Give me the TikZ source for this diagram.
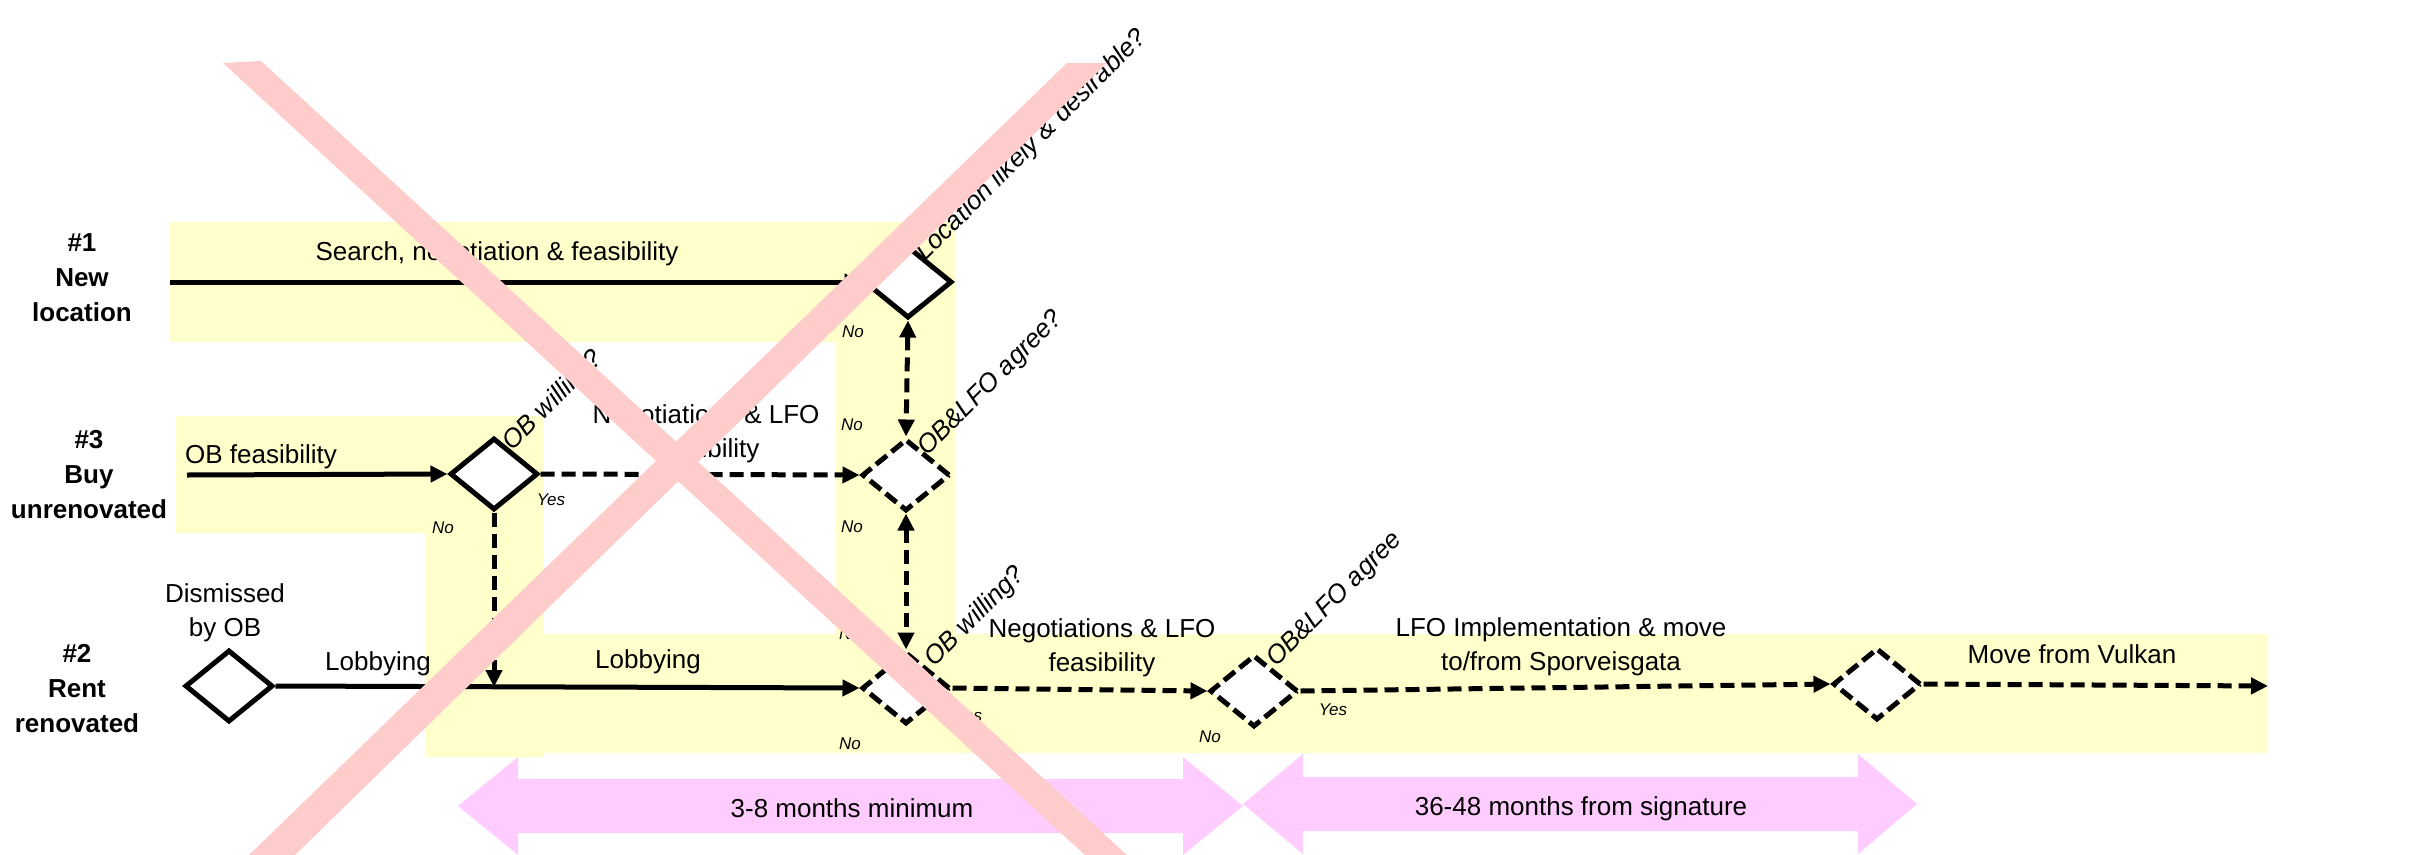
\documentclass[tikz,border=0pt]{standalone}
\usepackage{fontspec}
\setmainfont{Liberation Sans}
\usetikzlibrary{shapes.geometric,arrows.meta}
\definecolor{band}{HTML}{FFFFCC}
\definecolor{parrow}{HTML}{FFCCFF}
\definecolor{xcol}{HTML}{FFCCCC}
\tikzset{
  dia/.style={diamond, draw, fill=white, line width=5pt, minimum width=88pt, minimum height=72pt, inner sep=0pt},
  dashdia/.style={dia, dash pattern=on 14pt off 6pt},
  flow/.style={line width=5pt, -{Triangle[length=17pt,width=16pt]}},
  dflow/.style={flow, dash pattern=on 14pt off 7pt},
  ddflow/.style={dflow, {Triangle[length=17pt,width=16pt]}-{Triangle[length=17pt,width=16pt]}},
  lbl/.style={font=\fontsize{26pt}{34pt}\selectfont, inner sep=0pt, align=center},
  rlbl/.style={font=\fontsize{26pt}{30pt}\selectfont\itshape, inner sep=0pt, rotate=45, anchor=base west},
  small/.style={font=\fontsize{17pt}{20pt}\selectfont\itshape, inner sep=0pt},
  head/.style={font=\fontsize{26pt}{35pt}\selectfont\bfseries, inner sep=0pt, align=center, anchor=base},
}
\begin{document}
\begin{tikzpicture}[x=1pt,y=-1pt]
\useasboundingbox (0,0) rectangle (2422,854);
% yellow bands
\fill[band] (170,222) rectangle (955,342);
\fill[band] (836,222) rectangle (955,634);
\fill[band] (176,416) rectangle (544,533);
\fill[band] (426,416) rectangle (544,757);
\fill[band] (426,634) rectangle (2268,753);
% pink duration arrows
\fill[parrow] (458,806) -- (518,757) -- (518,779) -- (1183,779) -- (1183,757) -- (1243,806)
  -- (1183,855) -- (1183,833) -- (518,833) -- (518,855) -- cycle;
\fill[parrow] (1243,804) -- (1303,754) -- (1303,777) -- (1858,777) -- (1858,754) -- (1917,804)
  -- (1858,854) -- (1858,831) -- (1303,831) -- (1303,854) -- cycle;
\node[lbl, anchor=base] (tm1) at (852,817) {3-8 months minimum};
\node[lbl, anchor=base] (tm2) at (1581,815) {36-48 months from signature};
% row headers (base = last line)
\node[head] (h1) at (82,321) {\#1\\New\\location};
\node[head] (h3) at (89,518) {\#3\\Buy\\unrenovated};
\node[head] (h2) at (77,732) {\#2\\Rent\\renovated};
% diamonds
\node[dia] (d1) at (908,282) {};
\node[dia] (d2) at (494,474) {};
\node[dia] (dis) at (229,686) {};
\node[dashdia] (d3) at (906,475) {};
\node[dashdia] (d4) at (906,688) {};
\node[dashdia] (d5) at (1254,691) {};
\node[dashdia] (d6) at (1877,684) {};
\coordinate (s1) at (170,282);
\coordinate (s3) at (187,475);
\coordinate (j2) at (494,687);
\coordinate (e2) at (2268,686);
% connectors
\draw[flow] (s1) -- (d1.west);
\draw[flow] (s3) -- (d2.west);
\draw[dflow] (d2.east) -- (d3.west);
\draw[dflow] (d2.south) -- (j2);
\draw[flow] (dis.east) -- (d4.west);
\draw[ddflow] (d1.south) -- (d3.north);
\draw[ddflow] (d3.south) -- (d4.north);
\draw[dflow] (d4.east) -- (d5.west);
\draw[dflow] (d5.east) -- (d6.west);
\draw[dflow] (d6.east) -- (e2);
% labels
\node[lbl, anchor=base] (t1) at (497,260) {Search, negotiation \& feasibility};
\node[lbl, anchor=base west] (t3) at (185,463) {OB feasibility};
\node[lbl, anchor=base] (tneg1) at (706,457) {Negotiations \& LFO\\feasibility};
\node[lbl, anchor=base] (tlob1) at (378,670) {Lobbying};
\node[lbl, anchor=base] (tlob2) at (648,668) {Lobbying};
\node[lbl, anchor=base] (tdis) at (225,636) {Dismissed\\by OB};
\node[lbl, anchor=base] (tneg2) at (1102,671) {Negotiations \& LFO\\feasibility};
\node[lbl, anchor=base] (timp) at (1561,670) {LFO Implementation \& move\\to/from Sporveisgata};
\node[lbl, anchor=base] (tmove) at (2072,663) {Move from Vulkan};
% rotated questions
\node[rlbl] (q1) at (925,262) {Location likely \& desirable?};
\node[rlbl] (q3) at (927,457) {OB\&LFO agree?};
\node[rlbl] (q2) at (512,452) {OB willing?};
\node[rlbl] (q4) at (934,668) {OB willing?};
\node[rlbl] (q5) at (1276,668) {OB\&LFO agree};
% yes / no
\node[small] (n1) at (853,332) {No};
\node[small] (n2) at (852,425) {No};
\node[small] (n3) at (852,527) {No};
\node[small] (n4) at (443,528) {No};
\node[small] (y2) at (551,500) {Yes};
\node[small] (n5) at (850,634) {No};
\node[small] (n6) at (850,744) {No};
\node[small] (y4) at (968,716) {Yes};
\node[small] (n7) at (1210,737) {No};
\node[small] (y5) at (1333,710) {Yes};
% cross-out
\fill[xcol] (223,63) -- (261,61) -- (1128,856) -- (1086,856) -- cycle;
\fill[xcol] (1067,63) -- (1107,63) -- (294,856) -- (248,856) -- cycle;
\end{tikzpicture}
\end{document}
